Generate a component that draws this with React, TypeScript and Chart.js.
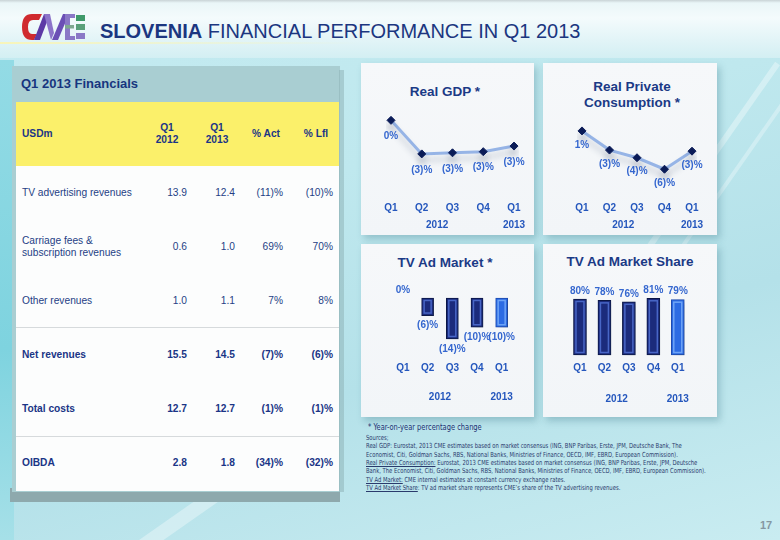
import React, { useEffect, useRef } from "react";
import { Chart, registerables } from "chart.js";

Chart.register(...registerables);

// ---------- DATA ----------
const quarters = ["Q1", "Q2", "Q3", "Q4", "Q1"];
const years = ["2012", "2013"];

const gdpValues = [0, -3.0, -2.9, -2.8, -2.3];
const gdpLabels = ["0%", "(3)%", "(3)%", "(3)%", "(3)%"];

const consumptionValues = [1.0, -2.5, -3.9, -6.0, -2.7];
const consumptionLabels = ["1%", "(3)%", "(4)%", "(6)%", "(3)%"];

const adMarketValues = [0, -6, -14, -10, -10];
const adMarketLabels = ["0%", "(6)%", "(14)%", "(10)%", "(10)%"];

const shareValues = [80, 78, 76, 81, 79];
const shareLabels = ["80%", "78%", "76%", "81%", "79%"];

const tableColumns = ["USDm", "Q1\n2012", "Q1\n2013", "% Act", "% Lfl"];
const rowLabels = [
  "TV advertising revenues",
  "Carriage fees &\nsubscription revenues",
  "Other revenues",
  "Net revenues",
  "Total costs",
  "OIBDA",
];
const q1_2012 = ["13.9", "0.6", "1.0", "15.5", "12.7", "2.8"];
const q1_2013 = ["12.4", "1.0", "1.1", "14.5", "12.7", "1.8"];
const pctAct = ["(11)%", "69%", "7%", "(7)%", "(1)%", "(34)%"];
const pctLfl = ["(10)%", "70%", "8%", "(6)%", "(1)%", "(32)%"];
const boldRows = [false, false, false, true, true, true];

// ---------- STYLE ----------
const FONT = '"Liberation Sans", Arial, Helvetica, sans-serif';
const NARROW = '"Liberation Sans Narrow", "Arial Narrow", "DejaVu Sans Condensed", sans-serif';
const NAVY = "#1b3a86";
const TICK_BLUE = "#2557bd";
const LABEL_BLUE = "#3567cf";

// ---------- PLUGINS ----------
function shadowPlugin(color: string, ox: number, oy: number, blur: number) {
  return {
    id: "shadow",
    beforeDatasetsDraw(chart: any) {
      const c = chart.ctx;
      c.save();
      c.shadowColor = color;
      c.shadowOffsetX = ox;
      c.shadowOffsetY = oy;
      c.shadowBlur = blur;
    },
    afterDatasetsDraw(chart: any) {
      chart.ctx.restore();
    },
  };
}

function bevelPlugin(normal: string, highlight: string) {
  return {
    id: "bevel",
    afterDatasetsDraw(chart: any) {
      const ctx = chart.ctx;
      const meta = chart.getDatasetMeta(0);
      meta.data.forEach((el: any, i: number) => {
        const { x, y, base, width } = el.getProps(["x", "y", "base", "width"], true);
        const top = Math.min(y, base);
        const bottom = Math.max(y, base);
        if (bottom - top < 6) return;
        ctx.save();
        ctx.strokeStyle = i === meta.data.length - 1 ? highlight : normal;
        ctx.lineWidth = 1.5;
        ctx.strokeRect(x - width / 2 + 2.5, top + 2.5, width - 5, bottom - top - 5);
        ctx.restore();
      });
    },
  };
}

function valueLabelPlugin(labels: string[], mode: "line" | "bar", lineOffset = 15) {
  return {
    id: "valueLabels",
    afterDatasetsDraw(chart: any) {
      const ctx = chart.ctx;
      const meta = chart.getDatasetMeta(0);
      const data = chart.data.datasets[0].data;
      ctx.save();
      ctx.font = `bold 10px ${FONT}`;
      ctx.fillStyle = LABEL_BLUE;
      ctx.textAlign = "center";
      ctx.textBaseline = "middle";
      meta.data.forEach((el: any, i: number) => {
        const { x, y } = el.getProps(["x", "y"], true);
        let ty: number;
        if (mode === "line") ty = y + lineOffset;
        else if (data[i] < 0) ty = y + 10;
        else ty = y - 8;
        ctx.fillText(labels[i], x, ty);
      });
      ctx.restore();
    },
  };
}

function yearPlugin(offset: number) {
  return {
    id: "years",
    afterDraw(chart: any) {
      const ctx = chart.ctx;
      const xs = chart.scales.x;
      const x2012 = (xs.getPixelForValue(1) + xs.getPixelForValue(2)) / 2;
      const x2013 = xs.getPixelForValue(4);
      const y = chart.chartArea.bottom + offset;
      ctx.save();
      ctx.font = `bold 10px ${FONT}`;
      ctx.fillStyle = TICK_BLUE;
      ctx.textAlign = "center";
      ctx.textBaseline = "middle";
      ctx.fillText(years[0], x2012, y);
      ctx.fillText(years[1], x2013, y);
      ctx.restore();
    },
  };
}

const xAxis = {
  grid: { display: false, drawTicks: false },
  border: { display: false },
  ticks: {
    color: TICK_BLUE,
    font: { family: FONT, size: 10, weight: "bold" as const },
    padding: 4,
    maxRotation: 0,
    autoSkip: false,
  },
};

function lineConfig(values: number[], labels: string[], yMin: number, yMax: number, pad: any, yearOffset: number, lineOffset: number) {
  return {
    type: "line" as const,
    data: {
      labels: quarters,
      datasets: [
        {
          data: values,
          borderColor: "#96b4e6",
          borderWidth: 3,
          tension: 0,
          pointStyle: "rectRot" as const,
          pointRadius: 4,
          pointBackgroundColor: "#0b1c58",
          pointBorderColor: "#0b1c58",
          pointBorderWidth: 1,
        },
      ],
    },
    options: {
      animation: false as const,
      responsive: false,
      layout: { padding: pad },
      plugins: { legend: { display: false }, tooltip: { enabled: false } },
      scales: {
        x: xAxis,
        y: { display: false, min: yMin, max: yMax },
      },
    },
    plugins: [
      shadowPlugin("rgba(40,60,90,0.22)", 0, 6, 6),
      valueLabelPlugin(labels, "line", lineOffset),
      yearPlugin(yearOffset),
    ],
  };
}

function barConfig(values: number[], labels: string[], yMin: number, yMax: number, pad: any, yearOffset: number, thickness: number) {
  const n = values.length;
  return {
    type: "bar" as const,
    data: {
      labels: quarters,
      datasets: [
        {
          data: values,
          backgroundColor: values.map((_, i) => (i === n - 1 ? "#2c6be3" : "#1b2b7c")),
          borderColor: values.map((_, i) => (i === n - 1 ? "#1c4ab0" : "#0b1646")),
          borderWidth: 1,
          borderSkipped: false,
          barThickness: thickness,
        },
      ],
    },
    options: {
      animation: false as const,
      responsive: false,
      layout: { padding: pad },
      plugins: { legend: { display: false }, tooltip: { enabled: false } },
      scales: {
        x: xAxis,
        y: { display: false, min: yMin, max: yMax },
      },
    },
    plugins: [
      shadowPlugin("rgba(40,60,90,0.28)", 4, 3, 5),
      bevelPlugin("#4866c6", "#6ea4f6"),
      valueLabelPlugin(labels, "bar"),
      yearPlugin(yearOffset),
    ],
  };
}

function ChartCanvas(props: { left: number; top: number; width: number; height: number; config: any }) {
  const ref = useRef<HTMLCanvasElement | null>(null);
  useEffect(() => {
    if (!ref.current) return;
    const chart = new Chart(ref.current, props.config);
    return () => chart.destroy();
  }, []);
  return (
    <canvas
      ref={ref}
      width={props.width}
      height={props.height}
      style={{ position: "absolute", left: props.left, top: props.top, width: props.width, height: props.height, display: "block" }}
    />
  );
}

function Panel(props: { left: number; top: number; width: number; height: number }) {
  return (
    <div
      style={{
        position: "absolute",
        left: props.left,
        top: props.top,
        width: props.width,
        height: props.height,
        background: "linear-gradient(180deg, #f6f8fa 0%, #f2f5f8 100%)",
        boxShadow: "3px 4px 7px rgba(50,110,125,0.3)",
      }}
    />
  );
}

function ChartTitle(props: { cx: number; top: number; text: string }) {
  return (
    <div
      style={{
        position: "absolute",
        left: props.cx - 90,
        width: 180,
        top: props.top,
        textAlign: "center",
        font: `bold 13.5px ${FONT}`,
        color: NAVY,
        lineHeight: "16px",
        whiteSpace: "pre-line",
      }}
    >
      {props.text}
    </div>
  );
}

function Logo() {
  return (
    <svg width="70" height="28" viewBox="0 0 70 28" style={{ position: "absolute", left: 21, top: 13 }}>
      <path d="M21 1 H11 Q1 1 1 14 Q1 27 11 27 H13 L16 21 H11 Q7 21 7 14 Q7 7 12 7 H18 Z" fill="#d02a2f" />
      <polygon points="13,27 23,1 29,1 19,27" fill="#5d3aa6" />
      <polygon points="23,1 29,1 33,20 30,27" fill="#8c74c9" />
      <polygon points="31,27 42,1 48,1 37,27" fill="#6b4fb5" />
      <rect x="44" y="1" width="5" height="26" fill="#8a78c6" />
      <rect x="44" y="1" width="10" height="4" fill="#8a78c6" />
      <rect x="44" y="12" width="9" height="3.5" fill="#7fa890" />
      <rect x="44" y="23" width="10" height="4" fill="#8a78c6" />
      <rect x="55" y="2" width="9" height="6" fill="#3f9a6a" />
      <rect x="55" y="11" width="9" height="6" fill="#5aa07a" />
      <rect x="55" y="20" width="9" height="6" fill="#8a78c6" />
    </svg>
  );
}

function Table() {
  const colRights = [187, 235, 283, 333];
  const colCenters = [167, 217, 266, 316];
  const rowTop = 166;
  const rowH = 54;
  const cells: React.ReactNode[] = [];
  rowLabels.forEach((label, r) => {
    const cy = rowTop + r * rowH + rowH / 2;
    const style: React.CSSProperties = {
      position: "absolute",
      top: cy - 14,
      height: 28,
      display: "flex",
      alignItems: "center",
      font: `${boldRows[r] ? "bold " : ""}10.2px ${FONT}`,
      color: boldRows[r] ? "#1a3586" : "#253f85",
      lineHeight: "12px",
      whiteSpace: "pre-line",
    };
    cells.push(
      <div key={`l${r}`} style={{ ...style, left: 22 }}>
        {label}
      </div>
    );
    [q1_2012[r], q1_2013[r], pctAct[r], pctLfl[r]].forEach((v, c) => {
      cells.push(
        <div key={`c${r}-${c}`} style={{ ...style, left: colRights[c] - 60, width: 60, justifyContent: "flex-end" }}>
          {v}
        </div>
      );
    });
  });
  const headStyle: React.CSSProperties = {
    position: "absolute",
    top: 120,
    height: 28,
    display: "flex",
    alignItems: "center",
    font: `bold 10.2px ${FONT}`,
    color: "#1a3586",
    lineHeight: "12.5px",
    whiteSpace: "pre-line",
    textAlign: "center",
  };
  return (
    <>
      <div style={{ position: "absolute", left: 10, top: 488, width: 330, height: 14, background: "#8ea9ad" }} />
      <div style={{ position: "absolute", left: 12, top: 66, width: 328, height: 426, background: "#a9ced2" }} />
      <div style={{ position: "absolute", left: 339, top: 70, width: 5, height: 422, background: "rgba(140,175,180,0.5)" }} />
      <div style={{ position: "absolute", left: 21, top: 75, font: `bold 13px ${FONT}`, color: "#17357f", lineHeight: "18px" }}>
        Q1 2013 Financials
      </div>
      <div style={{ position: "absolute", left: 16, top: 102, width: 323, height: 64, background: "#fbf06a" }} />
      <div style={{ position: "absolute", left: 16, top: 166, width: 323, height: 325, background: "#fcfdfd" }} />
      <div style={{ position: "absolute", left: 16, top: 327, width: 323, height: 1, background: "#d6dadc" }} />
      <div style={{ position: "absolute", left: 16, top: 436, width: 323, height: 1, background: "#d6dadc" }} />
      <div style={{ ...headStyle, left: 22 }}>{tableColumns[0]}</div>
      {colCenters.map((cx, i) => (
        <div key={`h${i}`} style={{ ...headStyle, left: cx - 30, width: 60, justifyContent: "center" }}>
          {tableColumns[i + 1]}
        </div>
      ))}
      {cells}
    </>
  );
}

const footLines: { u?: string; t: string }[] = [
  { t: "Sources;" },
  { t: "Real GDP: Eurostat, 2013 CME estimates based on market consensus (ING, BNP Paribas, Erste, JPM, Deutsche Bank, The" },
  { t: "Economist, Citi, Goldman Sachs, RBS, National Banks, Ministries of Finance, OECD, IMF, EBRD, European Commission)." },
  { u: "Real Private Consumption:", t: " Eurostat, 2013 CME estimates based on market consensus (ING, BNP Paribas, Erste, JPM, Deutsche" },
  { t: "Bank, The Economist, Citi, Goldman Sachs, RBS, National Banks, Ministries of Finance, OECD, IMF, EBRD, European Commission)." },
  { u: "TV Ad Market:", t: " CME internal estimates at constant currency exchange rates." },
  { u: "TV Ad Market Share", t: ": TV ad market share represents CME\u2019s share of the TV advertising revenues." },
];

export default function App() {
  return (
    <div
      style={{
        position: "fixed",
        left: 0,
        top: 0,
        width: 780,
        height: 540,
        overflow: "hidden",
        fontFamily: FONT,
        background: "linear-gradient(165deg, #c4ebf1 0%, #bfe8ee 35%, #b4e1e9 65%, #c9ecf1 100%)",
      }}
    >
      <div style={{ position: "absolute", left: 0, top: 60, width: 14, height: 480, background: "linear-gradient(180deg, #93dbe5, #7ed3df 60%, #a6e0e8)" }} />
      <div style={{ position: "absolute", left: 0, top: 0, width: 780, height: 58, background: "linear-gradient(180deg, #c9d3d6 0px, #eaf6f8 3px, #f4fbfc 18px, #e2f4f7 40px, #d3eff3 58px)" }} />
      <div style={{ position: "absolute", left: 0, top: 42, width: 360, height: 2, background: "linear-gradient(90deg, rgba(250,245,180,0.9), rgba(250,250,220,0))" }} />
      <div style={{ position: "absolute", left: 700, top: 40, width: 6, height: 260, background: "rgba(255,255,255,0.35)", transform: "rotate(35deg)" }} />
      <div style={{ position: "absolute", left: 720, top: 60, width: 4, height: 260, background: "rgba(255,255,255,0.3)", transform: "rotate(35deg)" }} />
      <div style={{ position: "absolute", left: 130, top: 440, width: 14, height: 220, background: "rgba(255,255,255,0.35)", transform: "rotate(55deg)" }} />

      <Logo />
      <div style={{ position: "absolute", left: 100, top: 19, font: `20px ${FONT}`, color: "#1b3680", whiteSpace: "nowrap", lineHeight: "24px" }}>
        <b>SLOVENIA</b> FINANCIAL PERFORMANCE IN Q1 2013
      </div>

      <Table />

      <Panel left={361} top={63} width={173} height={172} />
      <Panel left={543} top={63} width={174} height={172} />
      <Panel left={361} top={244} width={173} height={173} />
      <Panel left={543} top={244} width={174} height={173} />

      <ChartTitle cx={445} top={84} text="Real GDP *" />
      <ChartTitle cx={632} top={79} text={"Real Private\nConsumption *"} />
      <ChartTitle cx={445} top={255} text="TV Ad Market *" />
      <ChartTitle cx={630} top={254} text="TV Ad Market Share" />

      <ChartCanvas
        left={361}
        top={100}
        width={173}
        height={135}
        config={lineConfig(gdpValues, gdpLabels, -6.94, 1.37, { left: 30, right: 20, top: 0, bottom: 17 }, 27, 16)}
      />
      <ChartCanvas
        left={543}
        top={100}
        width={174}
        height={135}
        config={lineConfig(consumptionValues, consumptionLabels, -11.25, 5.73, { left: 39, right: 25, top: 0, bottom: 17 }, 27, 14)}
      />
      <ChartCanvas
        left={361}
        top={280}
        width={173}
        height={137}
        config={barConfig(adMarketValues, adMarketLabels, -20.5, 6.14, { left: 29.6, right: 20, top: 0, bottom: 39 }, 39, 12)}
      />
      <ChartCanvas
        left={543}
        top={270}
        width={174}
        height={147}
        config={barConfig(shareValues, shareLabels, -4.3, 121.4, { left: 24.75, right: 27, top: 0, bottom: 39 }, 41, 13)}
      />

      <div
        style={{
          position: "absolute",
          left: 368,
          top: 421,
          font: `9.5px ${NARROW}`,
          color: "#1c2f72",
          whiteSpace: "nowrap",
          lineHeight: "12px",
          transform: "scaleX(0.78)",
          transformOrigin: "0 0",
        }}
      >
        * Year-on-year percentage change
      </div>
      {footLines.map((l, i) => (
        <div
          key={i}
          style={{
            position: "absolute",
            left: 366,
            top: 434 + i * 8.35,
            font: `7px ${NARROW}`,
            color: "#2a3a6c",
            whiteSpace: "nowrap",
            lineHeight: "8px",
            transform: "scaleX(0.834)",
            transformOrigin: "0 0",
          }}
        >
          {l.u ? <span style={{ textDecoration: "underline" }}>{l.u}</span> : null}
          {l.t}
        </div>
      ))}
      <div style={{ position: "absolute", left: 752, top: 519, width: 28, textAlign: "center", font: `bold 11px ${FONT}`, color: "#8597a2" }}>
        17
      </div>
    </div>
  );
}
